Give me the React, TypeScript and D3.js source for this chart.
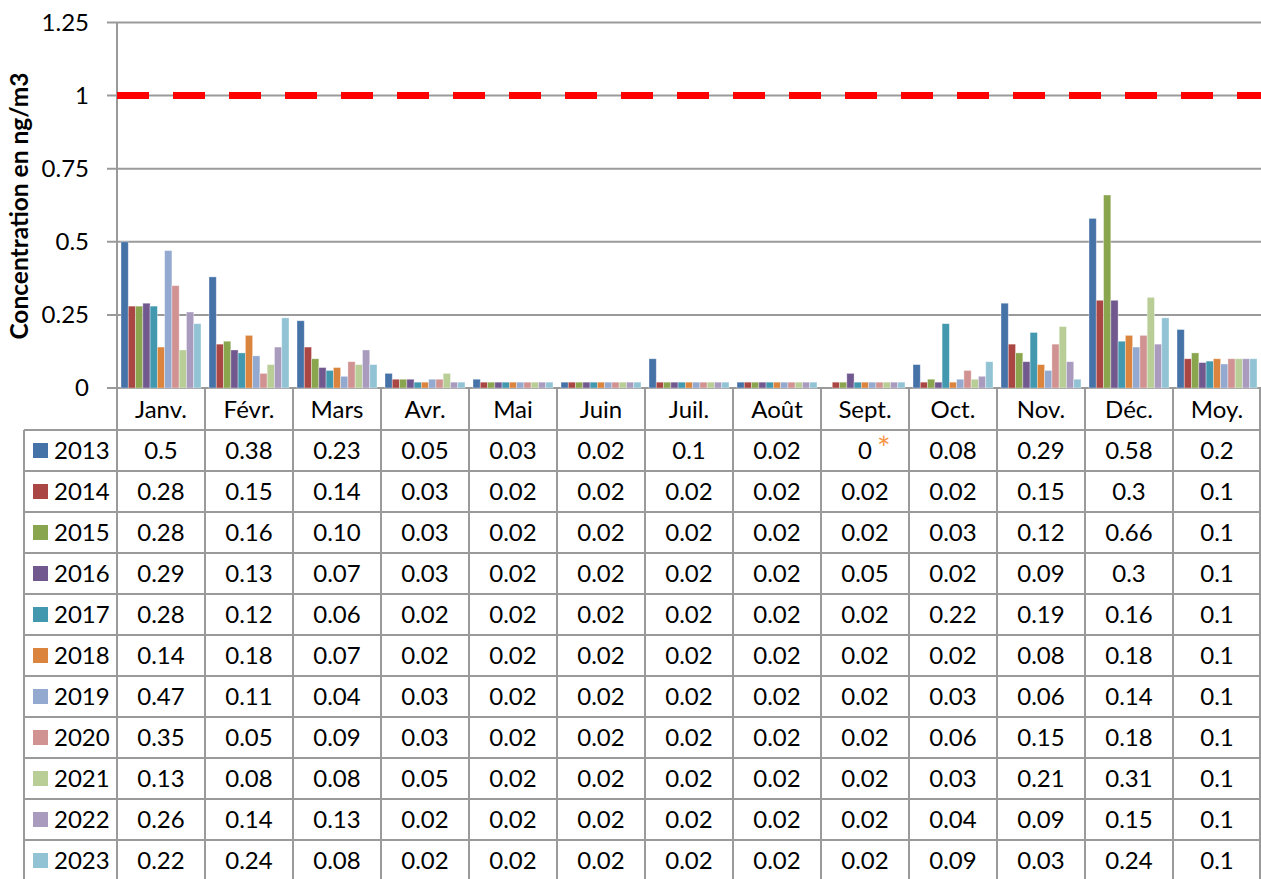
import * as d3 from 'd3';
import React, { useEffect, useRef } from 'react';

const months = ['Janv.', 'Févr.', 'Mars', 'Avr.', 'Mai', 'Juin', 'Juil.', 'Août', 'Sept.', 'Oct.', 'Nov.', 'Déc.', 'Moy.'];
const years = ['2013', '2014', '2015', '2016', '2017', '2018', '2019', '2020', '2021', '2022', '2023'];
const colors = ['#4572A7', '#AA4643', '#89A54E', '#71588F', '#4198AF', '#DB843D', '#93A9CF', '#D19392', '#B9CD96', '#A99BBD', '#92C3D5'];

// table text, one row per year (Janv. .. Déc.)
const rows2013 = ['0.5', '0.38', '0.23', '0.05', '0.03', '0.02', '0.1', '0.02', '0', '0.08', '0.29', '0.58'];
const rows2014 = ['0.28', '0.15', '0.14', '0.03', '0.02', '0.02', '0.02', '0.02', '0.02', '0.02', '0.15', '0.3'];
const rows2015 = ['0.28', '0.16', '0.10', '0.03', '0.02', '0.02', '0.02', '0.02', '0.02', '0.03', '0.12', '0.66'];
const rows2016 = ['0.29', '0.13', '0.07', '0.03', '0.02', '0.02', '0.02', '0.02', '0.05', '0.02', '0.09', '0.3'];
const rows2017 = ['0.28', '0.12', '0.06', '0.02', '0.02', '0.02', '0.02', '0.02', '0.02', '0.22', '0.19', '0.16'];
const rows2018 = ['0.14', '0.18', '0.07', '0.02', '0.02', '0.02', '0.02', '0.02', '0.02', '0.02', '0.08', '0.18'];
const rows2019 = ['0.47', '0.11', '0.04', '0.03', '0.02', '0.02', '0.02', '0.02', '0.02', '0.03', '0.06', '0.14'];
const rows2020 = ['0.35', '0.05', '0.09', '0.03', '0.02', '0.02', '0.02', '0.02', '0.02', '0.06', '0.15', '0.18'];
const rows2021 = ['0.13', '0.08', '0.08', '0.05', '0.02', '0.02', '0.02', '0.02', '0.02', '0.03', '0.21', '0.31'];
const rows2022 = ['0.26', '0.14', '0.13', '0.02', '0.02', '0.02', '0.02', '0.02', '0.02', '0.04', '0.09', '0.15'];
const rows2023 = ['0.22', '0.24', '0.08', '0.02', '0.02', '0.02', '0.02', '0.02', '0.02', '0.09', '0.03', '0.24'];
const monthRows = [rows2013, rows2014, rows2015, rows2016, rows2017, rows2018, rows2019, rows2020, rows2021, rows2022, rows2023];

// yearly average: label shown in the table and bar height
const avgLabels = ['0.2', '0.1', '0.1', '0.1', '0.1', '0.1', '0.1', '0.1', '0.1', '0.1', '0.1'];
const avgBars = [0.2, 0.1, 0.12, 0.087, 0.092, 0.1, 0.082, 0.1, 0.1, 0.1, 0.1];

const yTicks = [0, 0.25, 0.5, 0.75, 1, 1.25];
const limit = 1;

const App = () => {
  const ref = useRef(null);

  useEffect(() => {
    const W = 1261;
    const H = 879;
    const left = 117;
    const right = 1261;
    const top = 22.5;
    const bottom = 388;
    const rowH = 41;
    const tableTop = 430;
    const tableLeft = 24;
    const font = 'Lato, Calibri, sans-serif';
    const grid = '#9a9a9a';
    const fs = 24;

    const svg = d3.select(ref.current).attr('width', W).attr('height', H);
    svg.selectAll('*').remove();

    const x = d3.scaleBand().domain(months).range([left, right]);
    const xs = d3.scaleBand().domain(years).range([0, x.bandwidth()]).paddingOuter(0.55);
    const y = d3.scaleLinear().domain([0, 1.25]).range([bottom, top]);

    // gridlines
    svg.append('g').selectAll('line').data(yTicks).join('line')
      .attr('x1', left - 10).attr('x2', right)
      .attr('y1', (d) => y(d)).attr('y2', (d) => y(d))
      .attr('stroke', grid).attr('stroke-width', 2);
    svg.append('line')
      .attr('x1', left).attr('x2', left).attr('y1', top).attr('y2', bottom)
      .attr('stroke', grid).attr('stroke-width', 2);

    svg.append('g').selectAll('text').data(yTicks).join('text')
      .attr('x', 89).attr('y', (d) => y(d)).attr('dy', '0.35em')
      .attr('text-anchor', 'end').attr('font-family', font).attr('font-size', fs)
      .text((d) => d3.format('~g')(d));

    svg.append('text')
      .attr('transform', `translate(28, 206) rotate(-90)`)
      .attr('text-anchor', 'middle').attr('font-family', font).attr('font-weight', 'bold')
      .attr('font-size', 24.5).text('Concentration en ng/m3');

    // bars
    const barData = [];
    monthRows.forEach((row, i) => {
      row.forEach((v, j) => barData.push({ month: months[j], year: years[i], value: parseFloat(v), color: colors[i] }));
      barData.push({ month: 'Moy.', year: years[i], value: avgBars[i], color: colors[i] });
    });
    svg.append('g').selectAll('rect').data(barData.filter((d) => d.value > 0)).join('rect')
      .attr('x', (d) => x(d.month) + xs(d.year))
      .attr('y', (d) => y(d.value))
      .attr('width', xs.bandwidth())
      .attr('height', (d) => bottom - y(d.value))
      .attr('fill', (d) => d.color)
      .attr('stroke', 'rgba(255,255,255,0.45)').attr('stroke-width', 0.8);

    // limit line
    svg.append('line')
      .attr('x1', left).attr('x2', right).attr('y1', y(limit)).attr('y2', y(limit))
      .attr('stroke', '#FF0000').attr('stroke-width', 7).attr('stroke-dasharray', '32 24');

    // table grid
    const g = svg.append('g').attr('stroke', grid).attr('stroke-width', 2);
    const nRows = years.length;
    const tableBottom = tableTop + nRows * rowH;
    months.forEach((m) => {
      g.append('line').attr('x1', x(m)).attr('x2', x(m)).attr('y1', bottom).attr('y2', tableBottom);
    });
    g.append('line').attr('x1', right - 1).attr('x2', right - 1).attr('y1', bottom).attr('y2', tableBottom);
    g.append('line').attr('x1', tableLeft).attr('x2', tableLeft).attr('y1', tableTop).attr('y2', tableBottom);
    d3.range(nRows + 1).forEach((k) => {
      g.append('line').attr('x1', tableLeft).attr('x2', right)
        .attr('y1', tableTop + k * rowH).attr('y2', tableTop + k * rowH);
    });

    const cx = (m) => x(m) + x.bandwidth() / 2;
    svg.append('g').selectAll('text').data(months).join('text')
      .attr('x', (d) => cx(d)).attr('y', (bottom + tableTop) / 2 + 1).attr('dy', '0.35em')
      .attr('text-anchor', 'middle').attr('font-family', font).attr('font-size', fs)
      .text((d) => d);

    years.forEach((yr, i) => {
      const ry = tableTop + i * rowH + rowH / 2;
      const rg = svg.append('g').attr('font-family', font).attr('font-size', fs);
      rg.append('rect').attr('x', 33).attr('y', ry - 7.5).attr('width', 15).attr('height', 15).attr('fill', colors[i]);
      rg.append('text').attr('x', 54).attr('y', ry).attr('dy', '0.35em').text(yr);
      const cells = [...monthRows[i], avgLabels[i]];
      rg.selectAll('text.v').data(cells).join('text').attr('class', 'v')
        .attr('x', (d, j) => cx(months[j])).attr('y', ry).attr('dy', '0.35em')
        .attr('text-anchor', 'middle').text((d) => d);
    });

    // asterisk on Sept. 2013
    svg.append('text')
      .attr('x', cx('Sept.') + 12).attr('y', tableTop + rowH / 2 + 9)
      .attr('font-family', font).attr('font-size', 32).attr('fill', '#F79646')
      .text('*');
  }, []);

  return (
    <div style={{ position: 'absolute', left: 0, top: 0 }}>
      <svg ref={ref}></svg>
    </div>
  );
};

export default App;
